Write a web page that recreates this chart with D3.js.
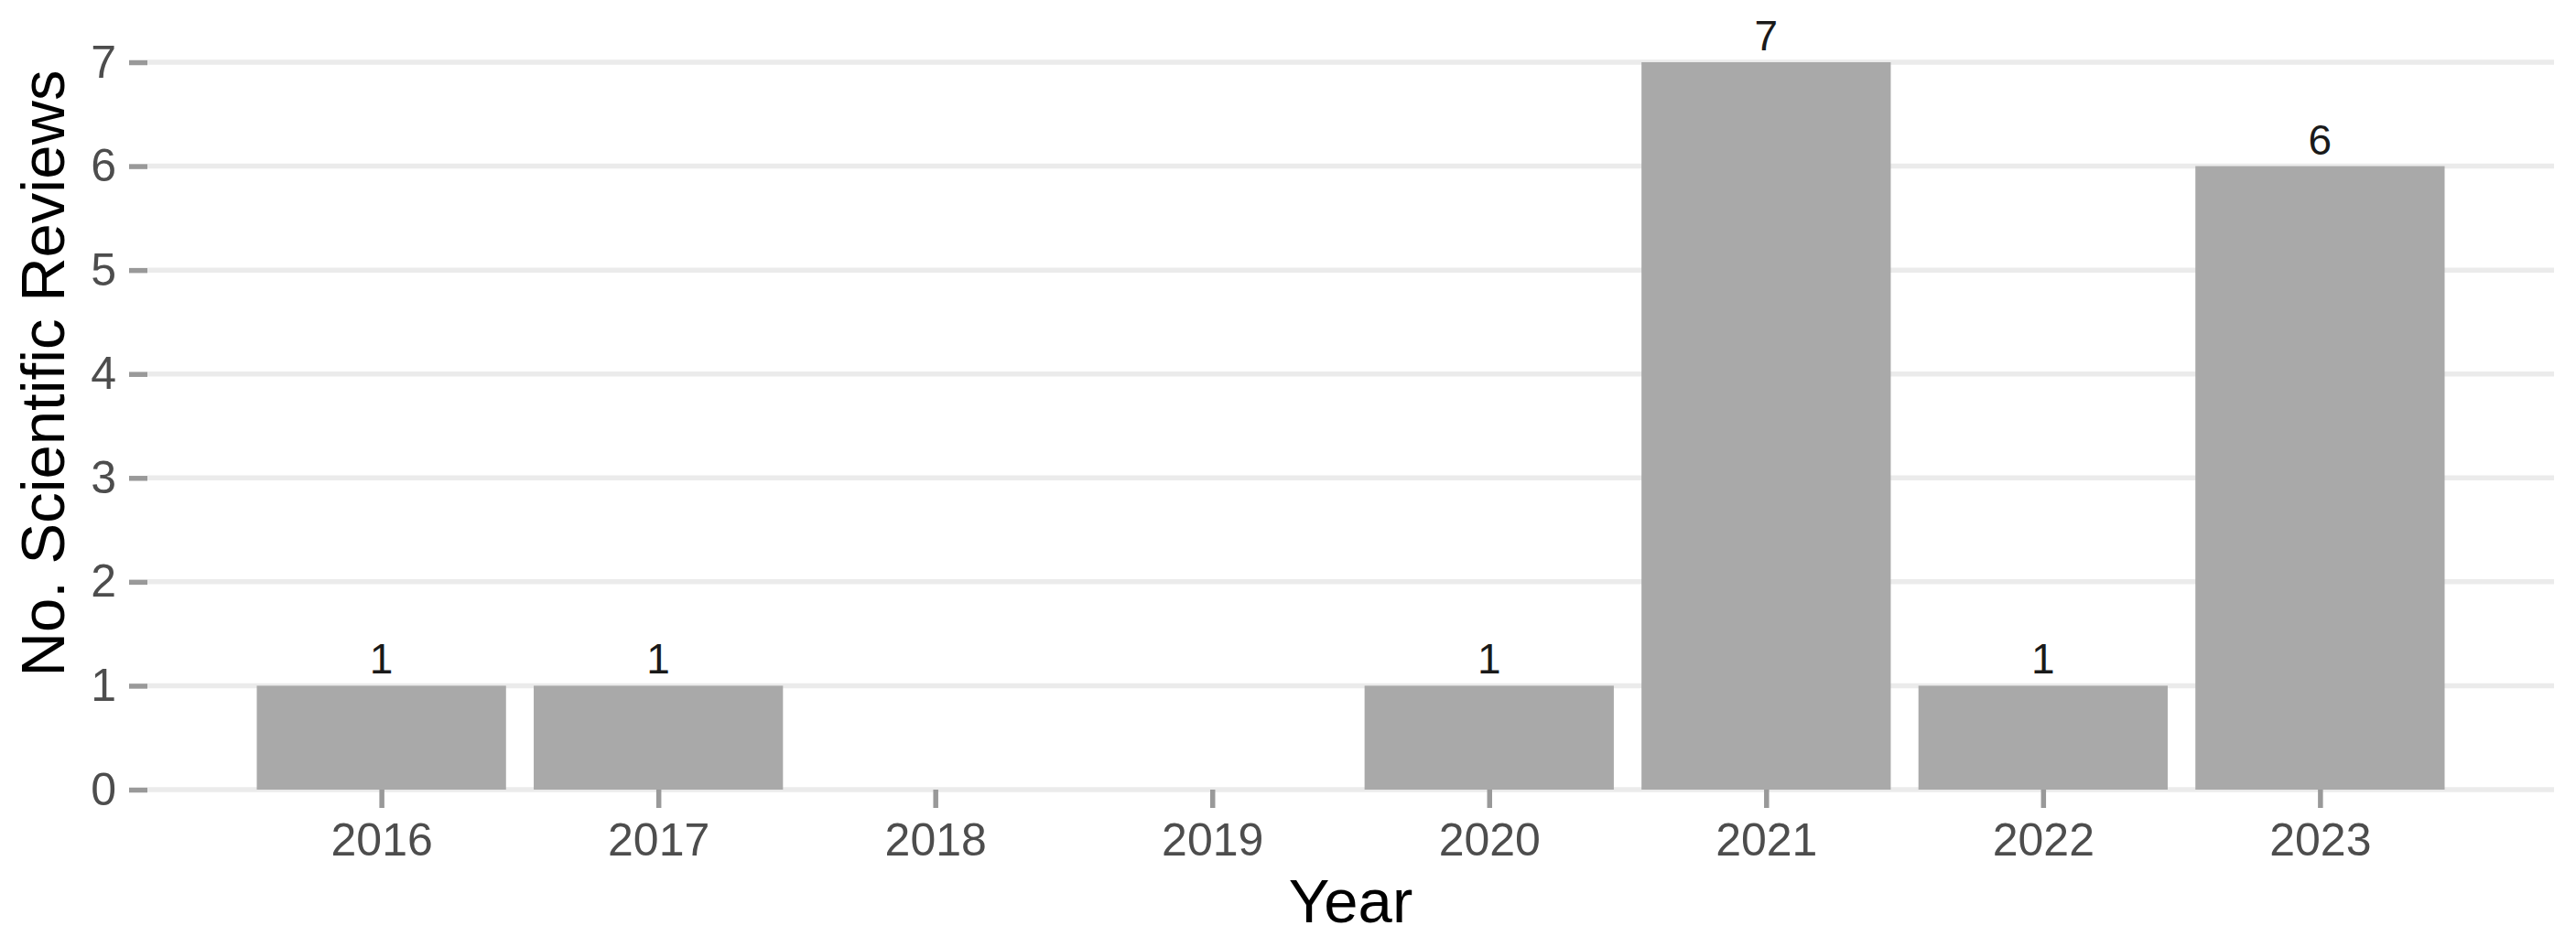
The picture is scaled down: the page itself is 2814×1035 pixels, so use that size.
<!DOCTYPE html>
<html>
<head>
<meta charset="utf-8">
<script src="https://cdn.jsdelivr.net/npm/d3@7"></script>
<style>
  html, body { margin: 0; padding: 0; background: #fff; }
  svg { display: block; }
</style>
</head>
<body>
<svg id="chart" width="2814" height="1035"></svg>
<script>
// Data
const years = [2016, 2017, 2020, 2021, 2022, 2023];
const reviews = [1, 1, 1, 7, 1, 6];
const xTicks = [2016, 2017, 2018, 2019, 2020, 2021, 2022, 2023];
const yTicks = [0, 1, 2, 3, 4, 5, 6, 7];
const xTitle = "Year";
const yTitle = "No. Scientific Reviews";

const W = 2814, H = 1035;
const panel = { left: 161, right: 2790, bottom: 863, top: 68 };
const barWidth = 0.9;
const font = "'Liberation Sans', Arial, Helvetica, sans-serif";

const svg = d3.select("#chart");

const x = d3.scaleLinear()
  .domain([2015.155, 2023.845])
  .range([panel.left, panel.right]);
const y = d3.scaleLinear()
  .domain([0, 7])
  .range([panel.bottom, panel.top]);

// gridlines
svg.append("g")
  .selectAll("line")
  .data(yTicks)
  .join("line")
  .attr("x1", panel.left)
  .attr("x2", panel.right)
  .attr("y1", d => y(d))
  .attr("y2", d => y(d))
  .attr("stroke", "#EBEBEB")
  .attr("stroke-width", 5.5);

// bars
const data = years.map((yr, i) => ({ year: yr, value: reviews[i] }));
svg.append("g")
  .selectAll("rect")
  .data(data)
  .join("rect")
  .attr("x", d => x(d.year - barWidth / 2))
  .attr("width", d => x(d.year + barWidth / 2) - x(d.year - barWidth / 2))
  .attr("y", d => y(d.value))
  .attr("height", d => y(0) - y(d.value))
  .attr("fill", "#A9A9A9");

// value labels
svg.append("g")
  .selectAll("text")
  .data(data)
  .join("text")
  .attr("x", d => x(d.year))
  .attr("y", d => y(d.value) - 13)
  .attr("text-anchor", "middle")
  .attr("font-family", font)
  .attr("font-size", 46)
  .attr("fill", "#1A1A1A")
  .text(d => d.value);

// x axis
const xAxis = d3.axisBottom(x)
  .tickValues(xTicks)
  .tickFormat(d3.format("d"))
  .tickSize(20)
  .tickPadding(16);
const gx = svg.append("g")
  .attr("transform", `translate(0,${panel.bottom})`)
  .call(xAxis);
gx.select(".domain").remove();
gx.selectAll(".tick line").attr("stroke", "#999999").attr("stroke-width", 5.5);
gx.selectAll(".tick text")
  .attr("font-family", font)
  .attr("font-size", 50)
  .attr("fill", "#4D4D4D");

// y axis
const yAxis = d3.axisLeft(y)
  .tickValues(yTicks)
  .tickFormat(d3.format("d"))
  .tickSize(20)
  .tickPadding(14);
const gy = svg.append("g")
  .attr("transform", `translate(${panel.left},0)`)
  .call(yAxis);
gy.select(".domain").remove();
gy.selectAll(".tick line").attr("stroke", "#999999").attr("stroke-width", 5.5);
gy.selectAll(".tick text")
  .attr("font-family", font)
  .attr("font-size", 50)
  .attr("fill", "#4D4D4D");

// axis titles
svg.append("text")
  .attr("x", (panel.left + panel.right) / 2)
  .attr("y", 1008)
  .attr("text-anchor", "middle")
  .attr("font-family", font)
  .attr("font-size", 67)
  .attr("fill", "#000")
  .text(xTitle);

svg.append("text")
  .attr("transform", `translate(70,408) rotate(-90)`)
  .attr("text-anchor", "middle")
  .attr("font-family", font)
  .attr("font-size", 67)
  .attr("fill", "#000")
  .text(yTitle);
</script>
</body>
</html>
